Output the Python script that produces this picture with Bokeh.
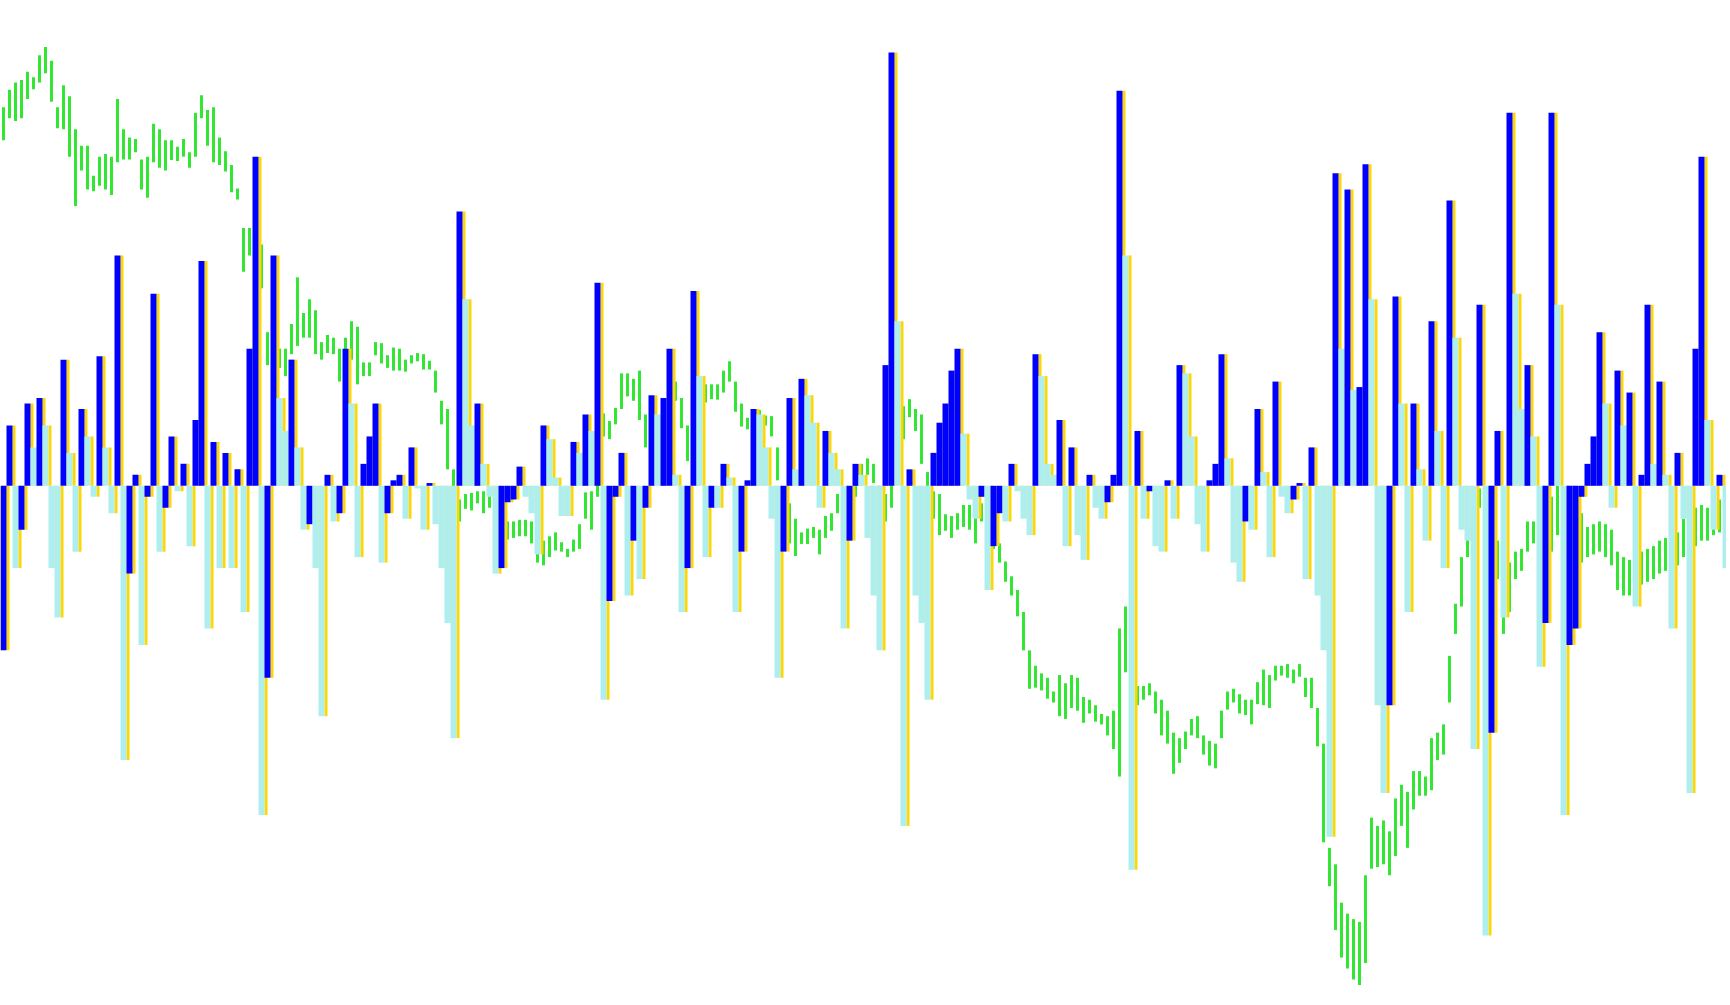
from bokeh.plotting import figure
from bokeh.models import Range1d
from bokeh.embed import file_html
from bokeh.resources import INLINE

# Histogram values (indicator units, zero line = 0), one value per 3 chart bars
hist = [
    -300, 110, -150, -80, 150, 70, 160, 110, -150, -240, 230, 60, -120, 140, 90, -20,
    236, 70, -50, 420, -500, -160, 20, -290, -20, 350, -120, -40, 90, -10, 40, -110,
    120, 410, -260, 80, -150, 60, -150, 30, -230, 250, 600, -600, -350, 420, 160, 100,
    230, 70, -80, -70, -150, -420, 20, -65, -50, 250, 150, -130, 40, 90, 150, -140,
    -50, 10, 20, -60, 70, -5, -80, 5, -70, -150, -250, -460, 500, 340, 110, 150,
    40, -20, -160, -150, -30, -25, 35, -20, -50, -125, 110, 85, 15, -55, -55, 80,
    60, 130, 100, 370, -390, -210, -20, 60, -200, -100, -170, -40, 165, 130, 160, 250,
    20, -230, -150, 355, 200, -130, -40, -40, 40, 15, -230, -120, 10, 140, 130, 70,
    -60, -350, -120, 160, 30, 195, 165, 115, -40, 100, 60, 30, -260, -100, 40, 20,
    -95, -200, -300, 220, 790, 300, -620, 30, -200, -250, -390, 60, 115, 150, 210, 250,
    95, -25, -60, -20, -190, -110, -50, -65, 40, -10, -60, -90, 240, 200, 40, 20,
    120, -110, 70, -90, -135, 20, -40, -60, -30, 20, 720, 420, -700, 100, -60, -10,
    -110, -120, 10, -60, 220, 205, 90, -70, -120, 10, 40, 240, 50, -140, -175, -65,
    -80, 140, 25, -130, 190, -20, -50, -25, 5, -170, 70, -200, -300, -640, 570, 250,
    540, 175, 180, 586, 340, -400, -560, -400, 345, 150, -230, 150, 30, -100, 300, 100,
    -150, 520, 270, -80, -100, -480, 330, -820, -450, 100, -240, 680, 350, 140, 220, 90,
    -330, -250, 680, 330, -600, -290, -260, -20, 40, 90, 280, 150, -40, 210, 110, 170,
    -220, 20, 330, 40, 190, 20, -260, 60, -60, -560, 250, 600, 120, -80, 20, -150,
    -400,
]

# Price bars (same units), high and low per group of bars
price_high = [
    690, 722, 735, 740, 755, 745, 785, 800, 775, 690, 730, 710, 650, 620, 620, 565,
    600, 605, 600, 705, 650, 635, 632, 595, 600, 660, 650, 630, 630, 618, 632, 608,
    680, 712, 685, 690, 635, 610, 585, 542, 470, 470, 560, 440, 280, 270, 250, 250,
    295, 380, 315, 340, 320, 262, 275, 270, 250, 270, 300, 290, 225, 225, 262, 260,
    238, 252, 250, 230, 238, 242, 240, 228, 210, 155, 140, 30, -25, -15, -13, -10,
    -10, -5, -30, -50, -65, -65, -62, -62, -65, -90, -100, -92, -85, -103, -115, -98,
    -70, -12, -10, 50, 132, 118, 142, 205, 205, 195, 210, 130, 110, 110, 115, 150,
    190, 160, 110, 110, 150, 185, 185, 185, 210, 227, 190, 150, 124, 130, 138, 128,
    127, 70, -10, -32, -60, -85, -78, -75, -80, -55, -50, -15, -10, -10, 25, 40,
    50, 40, 0, -15, 10, 180, 145, 158, 140, 130, 25, -10, -15, -52, -55, -50,
    -35, -35, -55, -32, -50, -85, -105, -138, -165, -190, -230, -300, -328, -342, -350, -375,
    -345, -360, -345, -350, -385, -390, -400, -416, -420, -410, -260, -220, -320, -365, -365, -360,
    -375, -390, -410, -450, -460, -448, -425, -420, -455, -465, -470, -410, -375, -370, -380, -390,
    -390, -358, -335, -345, -328, -328, -325, -335, -325, -350, -350, -405, -470, -660, -690, -760,
    -780, -790, -795, -710, -605, -620, -610, -630, -570, -545, -558, -520, -520, -530, -460, -450,
    -435, -310, -215, -130, -70, -50, -5, -40, -70, -100, -190, -140, -120, -115, -65, -65,
    -60, -70, -20, 0, -90, -90, -60, -50, -75, -70, -65, -70, -80, -120, -130, -135,
    -125, -120, -115, -110, -100, -95, -90, -85, -60, -50, -40, -35, -40, -30, -25, -30,
    -20,
]

price_low = [
    630, 670, 665, 670, 705, 723, 735, 752, 700, 652, 650, 600, 510, 575, 540, 537,
    547, 540, 530, 590, 595, 595, 608, 540, 525, 590, 580, 575, 594, 592, 600, 580,
    600, 670, 620, 590, 585, 573, 535, 522, 390, 420, 430, 360, 220, 230, 215, 200,
    240, 255, 270, 270, 240, 230, 242, 240, 190, 210, 230, 185, 200, 200, 238, 223,
    215, 210, 210, 208, 223, 227, 212, 212, 170, 112, 30, -50, -65, -42, -45, -32,
    -50, -40, -70, -90, -98, -95, -92, -92, -105, -140, -145, -130, -118, -120, -130, -120,
    -115, -60, -80, -20, 90, 85, 112, 140, 163, 155, 120, 70, 70, 75, 85, 110,
    155, 105, 45, 40, 90, 152, 158, 157, 170, 190, 135, 108, 103, 105, 108, 110,
    90, 10, -75, -105, -128, -106, -106, -95, -125, -95, -82, -50, -40, -35, -20, 15,
    20, 5, -40, -65, -40, 40, 85, 125, 100, 40, -8, -60, -90, -82, -95, -80,
    -75, -80, -105, -65, -90, -115, -140, -175, -200, -238, -300, -370, -368, -373, -388, -395,
    -420, -425, -405, -410, -432, -415, -430, -435, -455, -480, -530, -340, -410, -400, -390, -382,
    -415, -455, -470, -525, -505, -480, -455, -460, -490, -510, -515, -460, -408, -395, -415, -418,
    -435, -398, -400, -405, -355, -346, -350, -360, -348, -385, -405, -475, -650, -730, -810, -860,
    -880, -900, -910, -870, -698, -695, -690, -710, -675, -620, -660, -590, -565, -565, -555, -500,
    -490, -395, -270, -220, -130, -110, -40, -130, -170, -170, -270, -230, -170, -155, -120, -105,
    -120, -150, -120, -90, -180, -190, -160, -140, -130, -125, -120, -130, -145, -190, -200, -200,
    -190, -180, -175, -170, -160, -155, -150, -145, -130, -120, -110, -100, -100, -90, -85, -85,
    -80,
]

n = len(hist)
xs = [i + 0.5 for i in range(n)]
prev = [hist[0]] + hist[:-1]
bar_colors = ["#0000FF" if (i == 0 or hist[i] > hist[i - 1]) else "#AFEEEE" for i in range(n)]

W, H = 1726, 1001
p = figure(
    width=W, height=H,
    x_range=Range1d(0, W / 6),
    y_range=Range1d(-(H - 485.3) * 1.823, 485.3 * 1.823),
    output_backend="svg", toolbar_location=None,
    x_axis_location=None, y_axis_location=None,
    min_border=0, min_border_left=0, min_border_right=0, min_border_top=0, min_border_bottom=0,
    background_fill_color="white", border_fill_color="white", outline_line_color=None,
)
p.grid.visible = False

# price bars (behind the histogram)
p.vbar(x=xs, width=0.5, top=price_high, bottom=price_low, fill_color="#33E633", line_color=None)
# signal (previous value) shown as thin gold bars
p.vbar(x=[i + 0.25 for i in range(n)], width=0.5, top=prev, bottom=0, fill_color="#FFD700", line_color=None)
# main histogram
p.vbar(x=xs, width=1, top=hist, bottom=0, fill_color=bar_colors, line_color=None)

open("out.html", "w").write(file_html(p, INLINE))
